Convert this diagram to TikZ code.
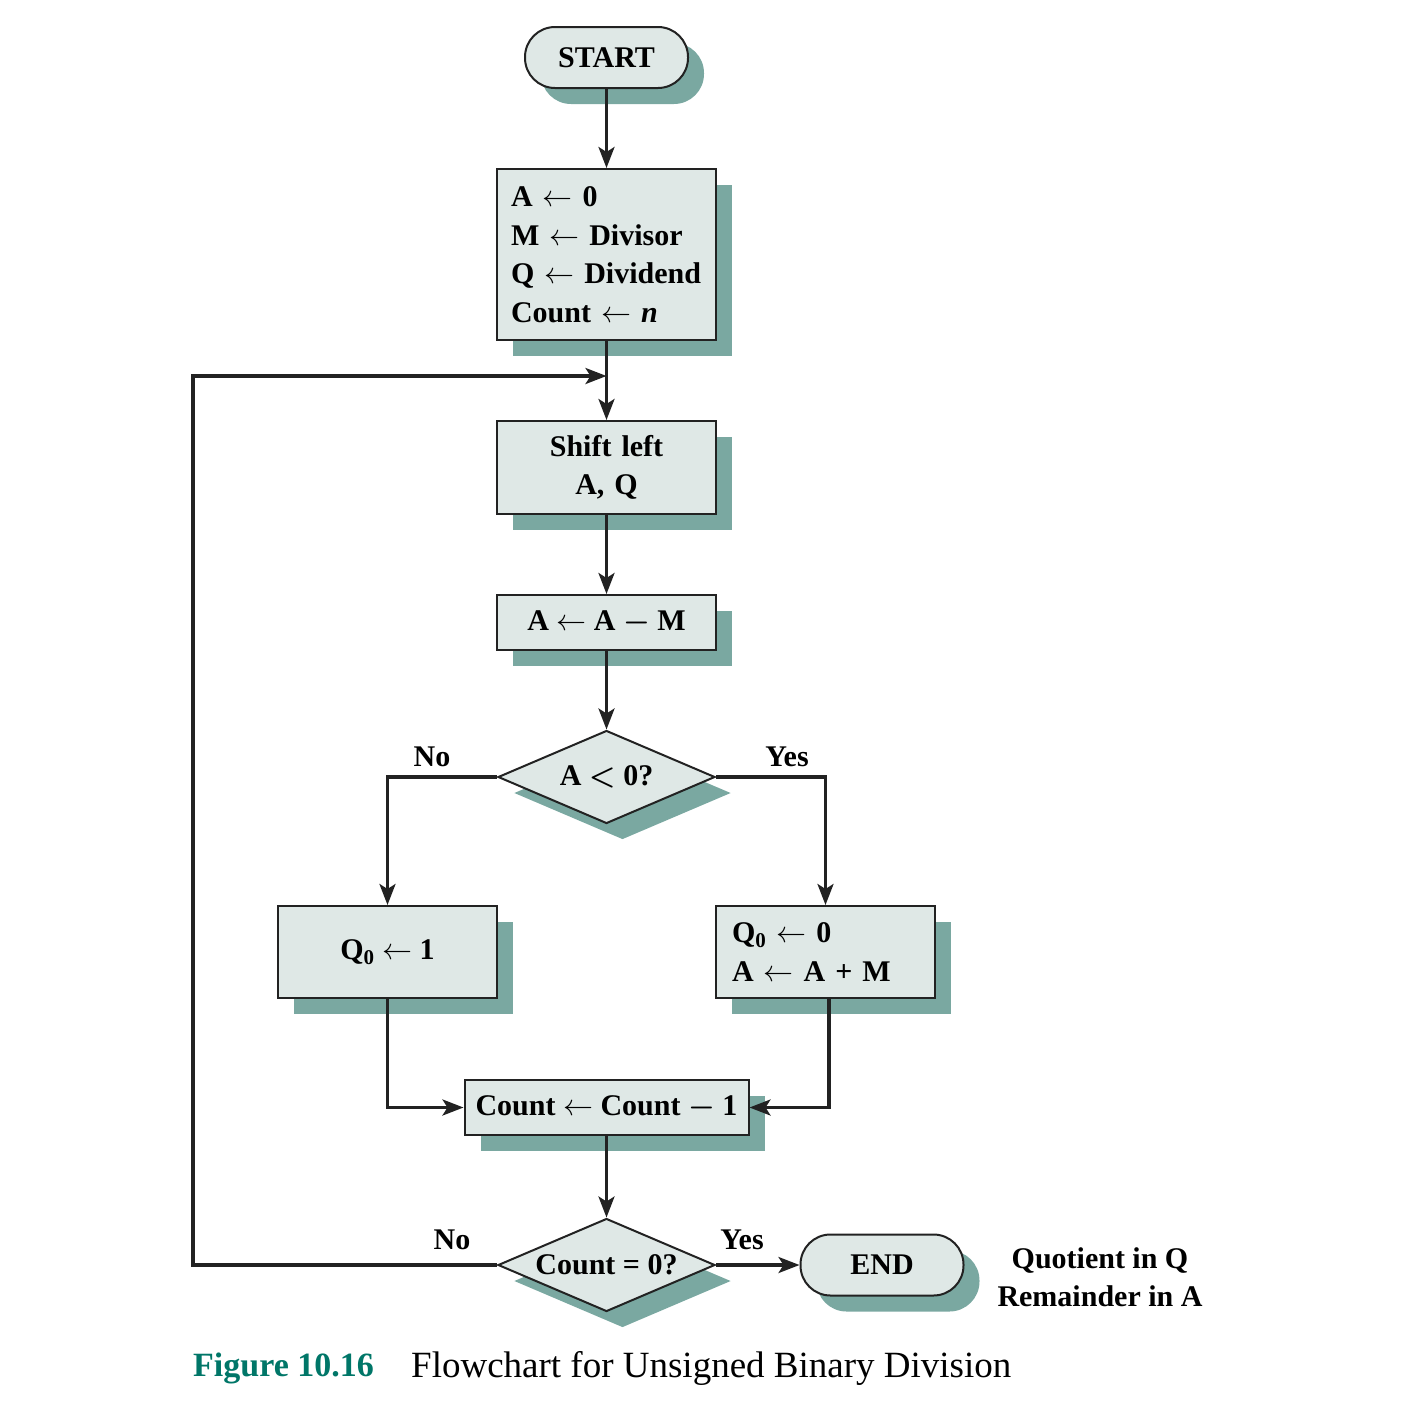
\documentclass[tikz,border=0pt]{standalone}
\usepackage{fontspec}
\setmainfont{Liberation Serif}
\usetikzlibrary{shapes.geometric,arrows.meta,shadows}
\DeclareFontShape{OMS}{cmsy}{m}{n}{<->cmsy10}{}
\DeclareFontShape{OMS}{cmsy}{b}{n}{<->cmbsy10}{}
\DeclareFontShape{OML}{cmm}{m}{it}{<->cmmi10}{}
\DeclareFontShape{OML}{cmm}{b}{it}{<->cmmib10}{}

\definecolor{boxfill}{RGB}{223,232,230}
\definecolor{shadowfill}{RGB}{122,168,161}
\definecolor{figteal}{RGB}{0,118,104}
\definecolor{linegray}{RGB}{34,34,34}

\newcommand{\assign}{ $\leftarrow$ }
\newcommand{\bminus}{ {\boldmath$-$} }

\tikzstyle{boxshadow} = [drop shadow={shadow xshift=16pt, shadow yshift=-16pt, fill=shadowfill, opacity=1}]
\tikzstyle{terminal} = [rectangle, rounded corners=30pt, minimum width=163pt, minimum height=61pt, text centered, draw=linegray, line width=2pt, fill=boxfill, boxshadow]
\tikzstyle{process} = [rectangle, minimum width=219pt, inner xsep=14pt, text centered, draw=linegray, line width=2pt, fill=boxfill, boxshadow]
\tikzstyle{decision} = [diamond, aspect=2.33, minimum width=217pt, minimum height=93pt, inner sep=0pt, draw=linegray, line width=2pt, fill=boxfill, boxshadow]
\tikzstyle{arrow} = [draw=linegray, line width=3.2pt, -{Stealth[length=21pt, width=16pt, inset=5pt]}]

\begin{document}
\begin{tikzpicture}[x=1pt, y=-1pt, font=\fontsize{30}{38.5}\selectfont\bfseries]
\useasboundingbox (0,0) rectangle (1428,1422);
\node (start) [terminal] at (606.5,57.5) {START};
\node (init) [process, minimum height=171pt, text width=191pt, align=left] at (606.5,254.5) {A\assign 0\\ M\assign Divisor\\ Q\assign Dividend\\ Count\assign \textit{n}};
\node (shift) [process, minimum height=93pt, text width=191pt, align=center] at (606.5,467.5) {Shift left\\ A, Q};
\node (sub) [process, minimum height=55pt] at (606.5,622.5) {A\assign A\bminus M};
\node (test1) [decision] at (606.5,777) {A {\boldmath$<$} 0?};
\node (setone) [process, minimum height=92pt] at (387.5,952) {Q\textsubscript{0}\assign 1};
\node (setzero) [process, minimum height=92pt, text width=187pt, inner xsep=16pt, align=left] at (825.5,952) {Q\textsubscript{0}\assign 0\\ A\assign A + M};
\node (count) [process, minimum width=284pt, minimum height=55pt, inner xsep=6pt] at (606.5,1107.5) {Count\assign Count\bminus 1};
\node (test2) [decision] at (606.5,1265) {Count = 0?};
\node (stop) [terminal] at (882,1265) {END};
\node (result) [align=center] at (1100,1277) {Quotient in Q\\ Remainder in A};
\node (no1) at (432,757) {No};
\node (yes1) at (787,757) {Yes};
\node (no2) at (452,1240) {No};
\node (yes2) at (742,1240) {Yes};
\node (fignum) [anchor=west, inner sep=0pt, text=figteal, font=\fontsize{34}{40}\selectfont\bfseries] at (193,1368) {Figure 10.16};
\node (figtitle) [anchor=west, inner sep=0pt, font=\fontsize{37}{40}\selectfont] at (411,1368) {Flowchart for Unsigned Binary Division};
\coordinate (join) at (606.5,376);
\coordinate (corner) at (193,376);
\draw [arrow] (start) -- (init);
\draw [arrow] (init) -- (shift);
\draw [arrow] (shift) -- (sub);
\draw [arrow] (sub) -- (test1);
\draw [arrow] (test1.west) -| (setone);
\draw [arrow] (test1.east) -| (setzero);
\draw [arrow] (setone) |- (count);
\draw [arrow] ([xshift=3.5pt]setzero.south) |- (count);
\draw [arrow] (count) -- (test2);
\draw [arrow] (test2) -- (stop);
\draw [arrow] (test2.west) -| (corner) -- (join);
\end{tikzpicture}
\end{document}
